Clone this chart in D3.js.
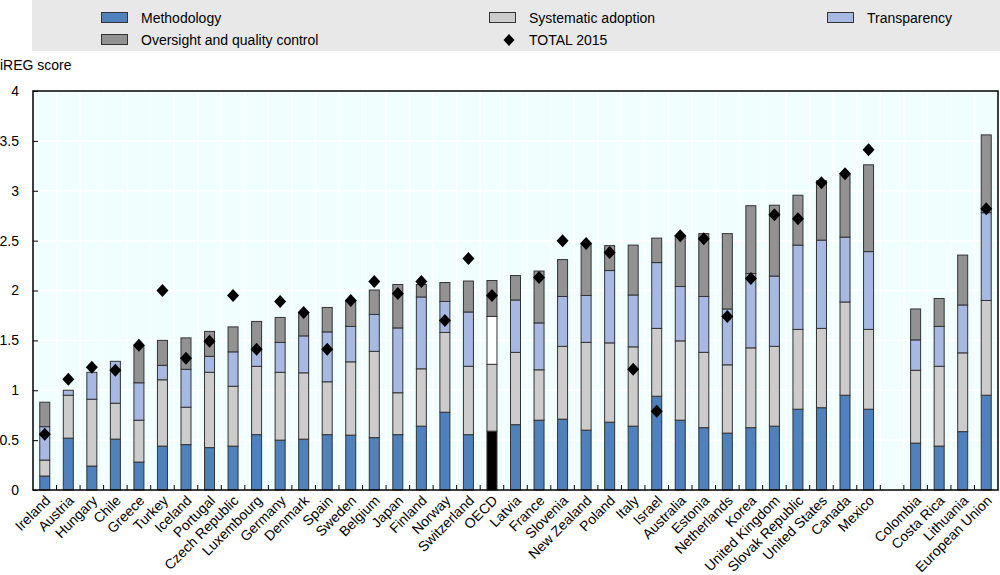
<!DOCTYPE html>
<html><head><meta charset="utf-8">
<script src="https://cdn.jsdelivr.net/npm/d3@7/dist/d3.min.js"></script>
<style>
html,body{margin:0;padding:0;background:#fff;}
svg{display:block;font-family:"Liberation Sans",Arial,sans-serif;}
</style></head>
<body><svg id="chart" width="1000" height="575"></svg>
<script>
const categories = ["Ireland","Austria","Hungary","Chile","Greece","Turkey","Iceland","Portugal","Czech Republic","Luxembourg","Germany","Denmark","Spain","Sweden","Belgium","Japan","Finland","Norway","Switzerland","OECD","Latvia","France","Slovenia","New Zealand","Poland","Italy","Israel","Australia","Estonia","Netherlands","Korea","United Kingdom","Slovak Republic","United States","Canada","Mexico","Colombia","Costa Rica","Lithuania","European Union"];
const methodology  = [0.14,0.52,0.24,0.51,0.28,0.44,0.455,0.425,0.44,0.555,0.50,0.51,0.555,0.55,0.525,0.555,0.64,0.78,0.555,0.59,0.655,0.70,0.71,0.60,0.68,0.64,0.94,0.70,0.625,0.57,0.625,0.64,0.81,0.825,0.95,0.81,0.47,0.44,0.585,0.95];
const systematic   = [0.16,0.43,0.67,0.36,0.42,0.665,0.375,0.755,0.60,0.685,0.68,0.665,0.53,0.735,0.865,0.42,0.575,0.80,0.685,0.67,0.725,0.505,0.73,0.88,0.795,0.795,0.68,0.795,0.755,0.685,0.80,0.80,0.80,0.795,0.935,0.80,0.73,0.80,0.79,0.95];
const transparency = [0.335,0.05,0.27,0.42,0.375,0.145,0.38,0.16,0.345,0.17,0.30,0.37,0.50,0.355,0.37,0.65,0.72,0.31,0.545,0.48,0.525,0.47,0.50,0.47,0.725,0.52,0.66,0.545,0.56,0.56,0.745,0.705,0.845,0.885,0.65,0.78,0.305,0.40,0.48,0.88];
const oversight    = [0.245,0,0,0,0.365,0.25,0.315,0.25,0.25,0.28,0.25,0.235,0.245,0.26,0.245,0.435,0.125,0.19,0.31,0.36,0.245,0.52,0.37,0.52,0.25,0.50,0.245,0.51,0.63,0.755,0.68,0.71,0.50,0.595,0.63,0.87,0.31,0.28,0.50,0.78];
const total2015    = [0.56,1.11,1.23,1.20,1.45,2.00,1.32,1.49,1.95,1.41,1.89,1.78,1.41,1.90,2.09,1.97,2.09,1.70,2.32,1.95,null,2.13,2.50,2.47,2.38,1.21,0.79,2.55,2.52,1.74,2.12,2.76,2.72,3.08,3.17,3.41,null,null,null,2.82];
const seriesNames  = ["Methodology","Systematic adoption","Transparency","Oversight and quality control"];
const yTicks = [0,0.5,1,1.5,2,2.5,3,3.5,4];
const gapBefore = "Colombia";

const colors = ["#4F81BD","#CCCCCC","#A7B9E3","#929292"];
const oecdColors = ["#000000","#CCCCCC","#FFFFFF","#929292"];

const svg = d3.select("#chart");
const m = {left:33, right:998, top:91, bottom:490};

const domain = [];
categories.forEach(c => { if (c === gapBefore) domain.push("__gap"); domain.push(c); });

const x = d3.scaleBand().domain(domain).range([m.left, m.right]).paddingInner(0).paddingOuter(0);
const y = d3.scaleLinear().domain([0,4]).range([m.bottom, m.top]);
const bw = 10;

// legend
svg.append("rect").attr("x",32).attr("y",0).attr("width",968).attr("height",51).attr("fill","#E8E8E8");
const legendItems = [
  {name:seriesNames[0], type:"rect", c:colors[0], x:101, y:18},
  {name:seriesNames[1], type:"rect", c:colors[1], x:489, y:18},
  {name:seriesNames[2], type:"rect", c:colors[2], x:827, y:18},
  {name:seriesNames[3], type:"rect", c:colors[3], x:101, y:40},
  {name:"TOTAL 2015", type:"diamond", x:489, y:40}
];
legendItems.forEach(d => {
  if (d.type === "rect") {
    svg.append("rect").attr("x",d.x+0.5).attr("y",d.y-5.5).attr("width",26).attr("height",10)
      .attr("fill",d.c).attr("stroke","#333").attr("stroke-width",1);
  } else {
    const cx = d.x+20, cy = d.y;
    svg.append("path").attr("d",`M${cx},${cy-6}L${cx+5.5},${cy}L${cx},${cy+6}L${cx-5.5},${cy}Z`).attr("fill","#000");
  }
  svg.append("text").attr("x",d.x+40).attr("y",d.y).attr("dy","0.35em")
    .attr("font-size",14).attr("fill","#000").text(d.name);
});

// plot background
svg.append("rect").attr("x",m.left).attr("y",m.top).attr("width",m.right-m.left).attr("height",m.bottom-m.top).attr("fill","#F0FEFE");

// grid lines
const g = svg.append("g");
yTicks.forEach(t => {
  g.append("line").attr("x1",m.left).attr("x2",m.right).attr("y1",y(t)).attr("y2",y(t)).attr("stroke","#fff").attr("stroke-width",1.5);
});
domain.forEach((d,i) => {
  if (i===0) return;
  const xx = x(d);
  g.append("line").attr("x1",xx).attr("x2",xx).attr("y1",m.top).attr("y2",m.bottom).attr("stroke","#fff").attr("stroke-width",1.5);
});

// stacked bars
const series = [methodology, systematic, transparency, oversight];
categories.forEach((c,i) => {
  let base = 0;
  const cx = x(c) + x.bandwidth()/2;
  series.forEach((s,k) => {
    const v = s[i];
    if (v > 0) {
      svg.append("rect").attr("x",cx-bw/2).attr("y",y(base+v)).attr("width",bw).attr("height",y(base)-y(base+v))
        .attr("fill", c === "OECD" ? oecdColors[k] : colors[k]).attr("stroke","#333").attr("stroke-width",1);
    }
    base += v;
  });
});

// total 2015 diamonds
categories.forEach((c,i) => {
  const v = total2015[i];
  if (v == null) return;
  const cx = x(c) + x.bandwidth()/2, cy = y(v);
  svg.append("path").attr("d",`M${cx},${cy-6.5}L${cx+6},${cy}L${cx},${cy+6.5}L${cx-6},${cy}Z`).attr("fill","#000");
});

// frame
svg.append("rect").attr("x",m.left).attr("y",m.top).attr("width",m.right-m.left).attr("height",m.bottom-m.top)
  .attr("fill","none").attr("stroke","#000").attr("stroke-width",1.5);

// y axis
const yAxis = d3.axisLeft(y).tickValues(yTicks).tickSize(-5).tickPadding(14).tickFormat(d => d3.format("")(d));
const ya = svg.append("g").attr("transform",`translate(${m.left},0)`).call(yAxis);
ya.select(".domain").remove();
ya.selectAll("line").attr("stroke","#000");
ya.selectAll("text").attr("font-size",14).attr("fill","#000").attr("font-family","Liberation Sans, Arial, sans-serif");

// x axis ticks (between categories)
const xa = svg.append("g");
domain.forEach((d,i) => {
  if (i===0) return;
  const xx = x(d);
  xa.append("line").attr("x1",xx).attr("x2",xx).attr("y1",m.bottom).attr("y2",m.bottom-5).attr("stroke","#000").attr("stroke-width",1);
});
categories.forEach(c => {
  const cx = x(c) + x.bandwidth()/2 + 3;
  xa.append("text").attr("transform",`translate(${cx},${m.bottom+8}) rotate(-45)`)
    .attr("text-anchor","end").attr("dy","0.35em").attr("font-size",14).attr("fill","#000").text(c);
});

// y axis title
svg.append("text").attr("x",0).attr("y",70).attr("font-size",14).attr("fill","#000").text("iREG score");
</script>
</body></html>
